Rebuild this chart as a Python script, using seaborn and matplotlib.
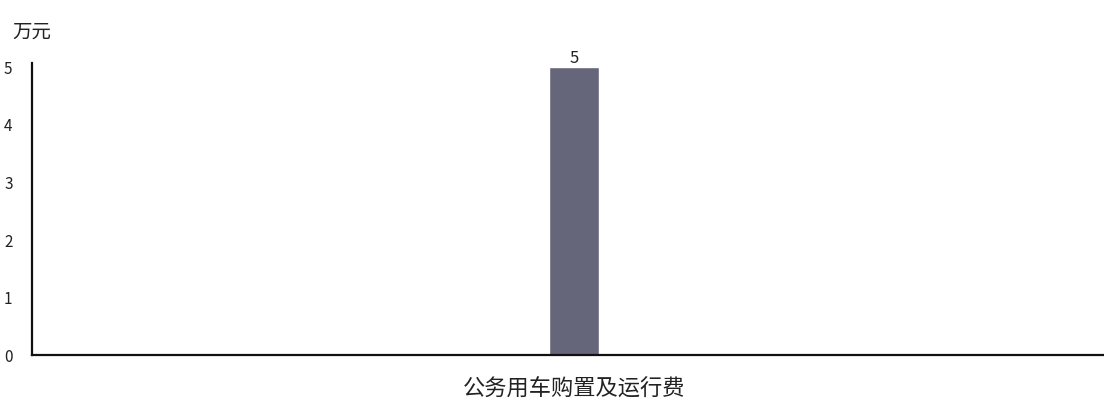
import pandas as pd
import seaborn as sns
import matplotlib.pyplot as plt

# -----------------------------
# Data
# -----------------------------
categories = ['公务用车购置及运行费']
values = [5]
y_ticks = [0, 1, 2, 3, 4, 5]

df = pd.DataFrame({'item': categories, 'amount': values})

sns.set_style('white')
plt.rcParams['font.family'] = ['Noto Sans CJK SC', 'DejaVu Sans']

fig = plt.figure(figsize=(11.04, 4.03), dpi=100)
ax = fig.add_axes([0.029, 0.119, 0.971, 0.725])

sns.barplot(data=df, x='item', y='amount', color='#65667a', width=0.1,
            saturation=1, ax=ax)

ax.set_xlim(-1.084, 1.06)
ax.set_ylim(0, 5.08)
ax.set_yticks(y_ticks)
ax.set_yticklabels([str(t) for t in y_ticks], fontsize=11, color='#222222')
ax.tick_params(axis='y', length=0, pad=14)
ax.tick_params(axis='x', length=0, pad=16)
ax.set_xticklabels(categories, fontsize=16, color='#222222')
ax.set_xlabel('')
ax.set_ylabel('')

for s in ['top', 'right']:
    ax.spines[s].set_visible(False)
for s in ['left', 'bottom']:
    ax.spines[s].set_linewidth(1.6)
    ax.spines[s].set_color('#111111')

# value label
for i, v in enumerate(values):
    ax.text(i, v, str(v), ha='center', va='bottom', fontsize=12, color='#222222')

fig.text(0.011, 0.92, '万元', fontsize=14, ha='left', va='center', color='#222222')

fig.savefig('out.png', dpi=100)
